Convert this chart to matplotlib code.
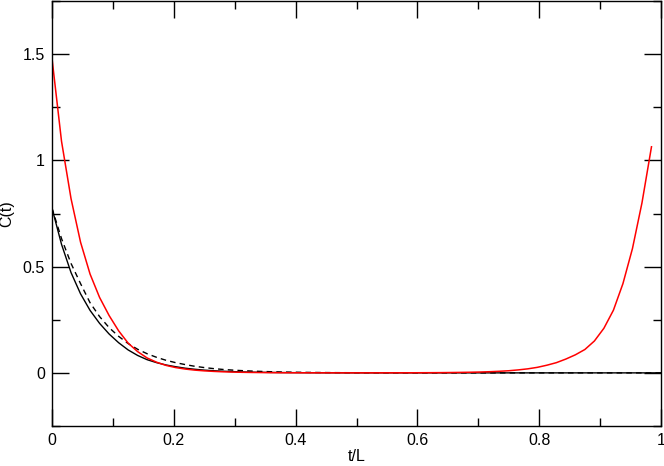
import numpy as np
import matplotlib
matplotlib.use("Agg")
import matplotlib.pyplot as plt
from matplotlib.ticker import MultipleLocator

# lattice extent L = 64
L = 64

# red: periodic correlator, t = 0..63
red = [1.48, 1.09, 0.82, 0.615, 0.465, 0.355, 0.27, 0.198, 0.14, 0.10,
       0.07, 0.05, 0.035, 0.025, 0.018, 0.013, 0.0095, 0.007, 0.005, 0.0037,
       0.0027, 0.002, 0.0015, 0.0011, 0.0008, 0.0006, 0.0005, 0.0004, 0.0003, 0.0003,
       0.0002, 0.0002, 0.0002, 0.0002, 0.0002, 0.0003, 0.0003, 0.0004, 0.0005, 0.0007,
       0.0009, 0.0012, 0.0017, 0.0023, 0.003, 0.004, 0.0055, 0.0075, 0.010, 0.014,
       0.019, 0.026, 0.036, 0.048, 0.065, 0.085, 0.11, 0.15, 0.21, 0.295,
       0.42, 0.585, 0.80, 1.064]

# black solid, t = 0..64
black = [0.775, 0.605, 0.472, 0.372, 0.294, 0.233, 0.183, 0.142, 0.108, 0.082,
         0.062, 0.048, 0.037, 0.029, 0.022, 0.017, 0.013, 0.010, 0.0078, 0.006,
         0.0046, 0.0035, 0.0027, 0.002, 0.0015, 0.0012, 0.0009, 0.0007, 0.0005, 0.0004,
         0.0003, 0.0002, 0.0002, 0.0001, 0.0001, 0.0001, 0.0001, 0.0, 0.0, 0.0,
         0.0, 0.0, 0.0, 0.0, 0.0, 0.0, 0.0, 0.0, 0.0, 0.0,
         0.0, 0.0, 0.0, 0.0, 0.0, 0.0, 0.0, 0.0, 0.0, 0.0,
         0.0, 0.0, 0.0, 0.0, 0.0]

# black dashed, t = 0..64
dashed = [0.775, 0.632, 0.515, 0.42, 0.33, 0.265, 0.213, 0.172, 0.138, 0.111,
          0.09, 0.073, 0.059, 0.048, 0.039, 0.031, 0.025, 0.020, 0.016, 0.013,
          0.0105, 0.0085, 0.0068, 0.0055, 0.0044, 0.0035, 0.0028, 0.0022, 0.0018, 0.0014,
          0.0011, 0.0009, 0.0007, 0.0005, 0.0004, 0.0003, 0.0003, 0.0002, 0.0002, 0.0001,
          0.0001, 0.0001, 0.0, 0.0, 0.0, 0.0, 0.0, 0.0, 0.0, 0.0,
          0.0, 0.0, 0.0, 0.0, 0.0, 0.0, 0.0, 0.0, 0.0, 0.0,
          0.0, 0.0, 0.0, 0.0, 0.0]

plt.rcParams['font.family'] = ['Liberation Sans', 'DejaVu Sans']

fig = plt.figure(figsize=(6.64, 4.66), dpi=100)
ax = fig.add_axes([52/664, 1 - 426/466, 609/664, 425/466])

t_red = np.arange(len(red)) / L
t_blk = np.arange(len(black)) / L
t_dsh = np.arange(len(dashed)) / L

ax.plot(t_blk, black, color='black', lw=1.0)
ax.plot(t_dsh, dashed, color='black', lw=1.0, ls=(0, (4, 3)))
ax.plot(t_red, red, color='red', lw=1.1)

ax.set_xlim(0, 1)
ax.set_ylim(-0.25, 1.75)
ax.xaxis.set_minor_locator(MultipleLocator(0.1))
ax.yaxis.set_minor_locator(MultipleLocator(0.25))
ax.set_xticks([0, 0.2, 0.4, 0.6, 0.8, 1.0])
ax.set_xticklabels(['0', '0.2', '0.4', '0.6', '0.8', '1'])
ax.set_yticks([0, 0.5, 1.0, 1.5])
ax.set_yticklabels(['0', '0.5', '1', '1.5'])
ax.tick_params(which='both', direction='in', top=True, right=True,
               width=1.0, labelsize=11.5, pad=5)
ax.tick_params(which='major', length=12)
ax.tick_params(which='minor', length=6)
for s in ax.spines.values():
    s.set_linewidth(1.0)

ax.set_xlabel('t/L', fontsize=11.5, labelpad=1)
ax.set_ylabel('C(t)', fontsize=11.5, labelpad=6)

fig.savefig('out.png', dpi=100)
